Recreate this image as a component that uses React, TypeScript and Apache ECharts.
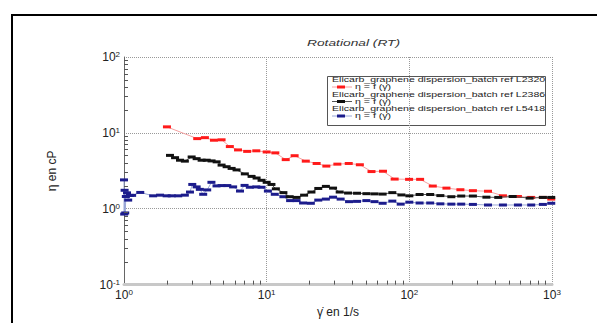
import React, { useEffect, useRef } from "react";
import * as echarts from "echarts";

const seriesNames = [
  "Elicarb_graphene dispersion_batch ref L2320",
  "Elicarb_graphene dispersion_batch ref L2386",
  "Elicarb_graphene dispersion_batch ref L5418",
];
const legendSub = "η = f (γ̇)";
const titleText = "Rotational (RT)";
const xName = "γ̇ en 1/s";
const yName = "η en cP";

const redX = [2.0, 3.26, 3.69, 4.27, 4.83, 5.52, 6.3, 7.3, 8.46, 10.0, 11.5, 13.6, 15.7, 18.8, 22.4, 26.2, 31.3, 37.6, 45, 54.3, 65.4, 78.9, 99.6, 119, 146, 182, 228, 279, 356, 453, 577, 715, 863, 988];
const redY = [12.0, 8.4, 8.65, 8.0, 8.1, 6.6, 5.96, 5.7, 5.8, 5.6, 5.45, 4.44, 5.0, 4.24, 3.95, 3.65, 3.87, 3.95, 3.8, 3.09, 3.12, 2.46, 2.44, 2.44, 1.99, 1.87, 1.78, 1.73, 1.7, 1.48, 1.45, 1.41, 1.41, 1.34];

const blackX = [2.1, 2.28, 2.47, 2.67, 2.98, 3.23, 3.5, 3.8, 4.11, 4.46, 4.83, 5.24, 5.68, 6.15, 7.03, 7.84, 8.5, 9.21, 10.0, 10.8, 11.6, 13.1, 14.5, 16.2, 18.3, 20.6, 23, 26, 29.2, 32.5, 37.2, 43, 50, 57, 65, 76, 88, 100, 118, 140, 165, 197, 231, 279, 347, 420, 530, 697, 863, 988];
const blackY = [5.05, 4.71, 4.36, 4.24, 4.81, 4.57, 4.36, 4.36, 4.27, 4.15, 3.76, 3.58, 3.4, 3.25, 2.88, 2.67, 2.54, 2.37, 2.23, 2.09, 1.83, 1.63, 1.44, 1.41, 1.51, 1.66, 1.85, 1.97, 1.87, 1.66, 1.61, 1.6, 1.58, 1.57, 1.56, 1.63, 1.52, 1.48, 1.54, 1.54, 1.49, 1.44, 1.47, 1.47, 1.42, 1.41, 1.45, 1.38, 1.41, 1.41];

const blueX = [1.0, 1.003, 1.01, 1.02, 1.03, 1.05, 1.07, 1.1, 1.14, 1.3, 1.6, 1.79, 1.99, 2.16, 2.4, 2.67, 2.9, 3.01, 3.23, 3.4, 3.59, 3.83, 4.1, 4.45, 4.83, 5.3, 5.82, 6.5, 7.0, 7.62, 8.46, 9.21, 10.2, 11.4, 13.1, 14.6, 16.2, 18, 20.4, 23, 26, 29.2, 33, 37.8, 43, 50, 57, 65, 76, 87, 100, 118, 140, 165, 197, 231, 279, 356, 453, 577, 715, 863, 988];
const blueY = [2.4, 0.85, 1.75, 0.88, 1.45, 1.62, 1.3, 1.5, 1.5, 1.64, 1.48, 1.51, 1.48, 1.48, 1.48, 1.51, 1.66, 2.09, 1.94, 1.8, 1.55, 1.77, 2.23, 2.0, 2.02, 2.02, 1.94, 1.71, 2.03, 1.92, 1.94, 1.92, 1.71, 1.55, 1.44, 1.28, 1.28, 1.19, 1.18, 1.3, 1.34, 1.42, 1.34, 1.24, 1.25, 1.28, 1.24, 1.18, 1.26, 1.15, 1.22, 1.19, 1.19, 1.16, 1.15, 1.15, 1.14, 1.12, 1.12, 1.12, 1.12, 1.14, 1.18];

const minorXTicks = [2, 3, 4, 5, 6, 7, 8, 9, 20, 30, 40, 50, 60, 70, 80, 90, 200, 300, 400, 500, 600, 700, 800, 900];
const minorYTicks = [0.2, 0.3, 0.4, 0.5, 0.6, 0.7, 0.8, 0.9, 2, 3, 4, 5, 6, 7, 8, 9, 20, 30, 40, 50, 60, 70, 80, 90];

const markerColors = ["#ff1a1a", "#111111", "#1c1c8c"];
const lineColors = ["#f4a0a0", "#555555", "#9aa8d8"];

const FONT = "Liberation Sans, Arial, sans-serif";

function zip(xs: number[], ys: number[]) {
  return xs.map((x, i) => [x, ys[i]]);
}

const powLabel = (v: number) => {
  const e = Math.round(Math.log10(v));
  return "10{s|" + e + "}";
};

export default function App() {
  const ref = useRef<HTMLDivElement>(null);
  useEffect(() => {
    if (!ref.current) return;
    const chart = echarts.init(ref.current, null, { renderer: "svg" });
    const datas = [zip(redX, redY), zip(blackX, blackY), zip(blueX, blueY)];
    const labelRich = {
      s: { fontSize: 8, fontFamily: FONT, color: "#222", verticalAlign: "top", padding: [0, 0, 5, 0] },
    };
    const legendChildren: any[] = [
      {
        type: "rect",
        shape: { x: 327.5, y: 76.5, width: 218, height: 49 },
        style: { fill: "#fff", stroke: "#555", lineWidth: 1 },
      },
    ];
    seriesNames.forEach((nm, i) => {
      const y = 80 + i * 14.5;
      legendChildren.push({
        type: "text",
        x: 332,
        y: y,
        scaleX: 1.41,
        style: { text: nm, fontSize: 7.5, fontFamily: FONT, fill: "#222", verticalAlign: "middle", align: "left" },
      });
      legendChildren.push({
        type: "line",
        shape: { x1: 332, y1: y + 7, x2: 352, y2: y + 7 },
        style: { stroke: lineColors[i], lineWidth: 1 },
      });
      legendChildren.push({
        type: "rect",
        shape: { x: 337, y: y + 5.5, width: 8, height: 3 },
        style: { fill: markerColors[i] },
      });
      legendChildren.push({
        type: "text",
        x: 355,
        y: y + 7,
        scaleX: 1.41,
        style: { text: legendSub, fontSize: 7.5, fontFamily: FONT, fill: "#222", verticalAlign: "middle", align: "left" },
      });
    });

    const minorAxis = (ticks: number[], lo: number, hi: number, pos: string) => ({
      type: "log",
      logBase: 10,
      min: lo,
      max: hi,
      position: pos,
      axisLine: { show: false, onZero: false },
      axisLabel: { show: false },
      splitLine: { show: false },
      axisTick: {
        show: true,
        inside: true,
        length: 4,
        customValues: ticks,
        lineStyle: { color: "#555", width: 1 },
      },
      z: 5,
    });

    chart.setOption({
      animation: false,
      backgroundColor: "#fff",
      grid: { left: 124, right: 45, top: 57, bottom: 31, containLabel: false },
      xAxis: [
        {
          type: "log",
          logBase: 10,
          min: 1,
          max: 1000,
          splitNumber: 3,
          axisLine: { show: true, onZero: false, lineStyle: { color: "#c8c8c8", width: 3 } },
          axisTick: { show: false },
          splitLine: { show: true, lineStyle: { type: "dotted", color: "#999", width: 1 } },
          axisLabel: {
            formatter: powLabel,
            rich: labelRich,
            fontSize: 12,
            fontFamily: FONT,
            color: "#222",
            margin: 4,
          },
          name: xName,
          nameLocation: "middle",
          nameGap: 19,
          nameTextStyle: { fontSize: 12, fontFamily: FONT, color: "#222" },
        },
        minorAxis(minorXTicks, 1, 1000, "bottom"),
      ],
      yAxis: [
        {
          type: "log",
          logBase: 10,
          min: 0.1,
          max: 100,
          splitNumber: 3,
          axisLine: { show: true, onZero: false, lineStyle: { color: "#666", width: 1 } },
          axisTick: { show: false },
          splitLine: { show: true, lineStyle: { type: "dotted", color: "#999", width: 1 } },
          axisLabel: {
            formatter: powLabel,
            rich: labelRich,
            fontSize: 12,
            fontFamily: FONT,
            color: "#222",
            margin: 4,
          },
          name: yName,
          nameLocation: "middle",
          nameGap: 66,
          nameTextStyle: { fontSize: 12, fontFamily: FONT, color: "#222" },
        },
        minorAxis(minorYTicks, 0.1, 100, "left"),
      ],
      series: datas.map((d, i) => ({
        type: "line",
        name: seriesNames[i],
        data: d,
        xAxisIndex: 0,
        yAxisIndex: 0,
        symbol: "rect",
        symbolSize: [8, 3],
        showSymbol: true,
        showAllSymbol: true,
        itemStyle: { color: markerColors[i] },
        lineStyle: { color: lineColors[i], width: 1 },
        z: 3 + (i === 1 ? 1 : 0),
      })),
      graphic: [
        {
          type: "rect",
          shape: { x: 12, y: 15, width: 700, height: 400 },
          style: { fill: "none", stroke: "#000", lineWidth: 2 },
          silent: true,
        },
        {
          type: "text",
          x: 307,
          y: 43,
          scaleX: 1.45,
          style: {
            text: titleText,
            fontSize: 9.5,
            fontStyle: "italic",
            fontFamily: FONT,
            fill: "#333",
            verticalAlign: "middle",
            align: "left",
          },
        },
        { type: "group", children: legendChildren, z: 10 },
      ],
    });
    return () => chart.dispose();
  }, []);
  return (
    <div
      ref={ref}
      style={{ position: "absolute", left: 0, top: 0, width: 597, height: 323, background: "#fff" }}
    />
  );
}
